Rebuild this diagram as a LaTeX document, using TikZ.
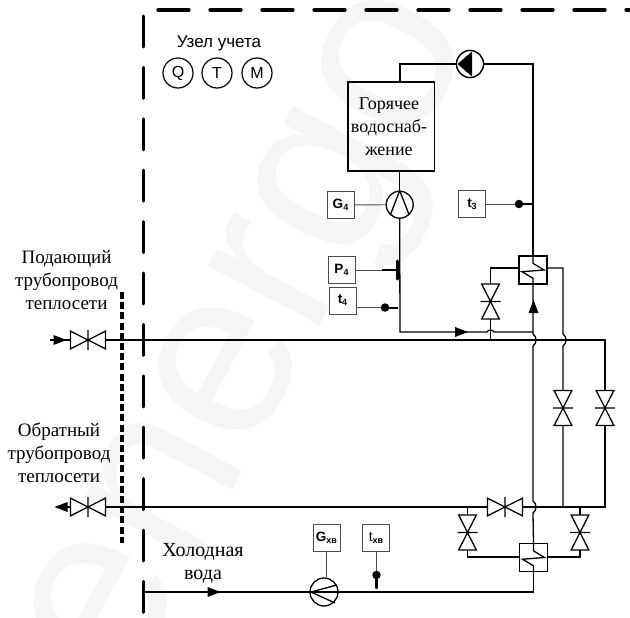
\documentclass[tikz,border=0pt]{standalone}
\usepackage{fontspec}
\setmainfont{Liberation Serif}
\newfontfamily\armfont{Liberation Sans}
\newcommand{\sensorlabel}[2]{{\armfont\bfseries\fontsize{13.5}{13.5}\selectfont #1\raisebox{-2pt}{\fontsize{9}{9}\selectfont #2}}}
\begin{document}
\begin{tikzpicture}[x=1pt, y=-1pt, >=stealth]
    \tikzstyle{pipe}=[draw, line width=1.3pt, line join=miter]
    \tikzstyle{tie}=[draw, line width=0.9pt, black!70]
    \tikzstyle{sensor}=[draw, black!70, line width=0.8pt, shape=rectangle, minimum size=27pt, inner sep=0pt, text=black]
    \tikzstyle{gauge}=[draw, line width=1.3pt, shape=circle, minimum size=27pt, inner sep=0pt]
    \tikzstyle{meter}=[draw, line width=1.2pt, shape=circle, minimum size=30pt, inner sep=0pt, font=\armfont\fontsize{16}{16}\selectfont]
    \tikzstyle{exch}=[draw, line width=1.5pt, shape=rectangle, minimum size=28pt, inner sep=0pt, fill=white]
    \tikzstyle{probe}=[fill, shape=circle, minimum size=8.5pt, inner sep=0pt]
    \tikzstyle{heavy}=[draw, line width=2.4pt, line cap=round]
    \tikzstyle{caption}=[align=center, font=\fontsize{19}{23}\selectfont]
    \tikzset{
      valve/.pic={\draw [pipe, fill=white] (-17.5,-8.8) -- (17.5,8.8) -- (17.5,-8.8) -- (-17.5,8.8) -- cycle (0,-10) -- (0,10);},
      flowtip/.pic={\fill (-6.5,-5) -- (6.5,0) -- (-6.5,5) -- cycle;},
      coil/.pic={\draw [pipe] (0,-14) -- (0,-6.7) -- (11,0) -- (-11,1.7) -- (0,8.3) -- (0,14);}
    }
    \useasboundingbox (0,0) rectangle (630,618);
    \clip (0,0) rectangle (630,618);

    % watermark
    \node [rotate=62, text=black!4, font=\armfont\fontsize{240}{240}\selectfont] (mark) at (265,345) {energo};

    % draw boundary
    \foreach \y in {0,...,11}
    \draw [heavy, line width=3pt] (143.5,16+\y*51.4) -- ++(0,31);

    \foreach \x in {0,...,9}
    \draw [heavy, line width=3.2pt] (158+\x*52,10) -- ++(31,0);

    \foreach \x in {0,...,9}
    \draw [heavy, line width=3pt, black!35] (143+\x*52,619) -- ++(30,0);

    \draw [line width=4pt, dash pattern=on 7pt off 3.2pt] (121.5,292) -- (121.5,543);

    % draw nodes
    \node [draw, line width=1.5pt, minimum width=86.5pt, minimum height=89pt, inner sep=0pt, caption, font=\fontsize{18}{23}\selectfont] (tank) at (391,126.5) {\hspace{-4pt}Горячее\\\hspace{-4pt}водоснаб-\\\hspace{-4pt}жение};
    \node [gauge] (circPump) at (470,64) {};
    \node [gauge] (gaugeFour) at (399.7,204.7) {};
    \node [gauge, minimum size=28pt] (gaugeCold) at (324,592) {};
    \node [exch] (exchHot) at (533,270) {};
    \node [exch] (exchCold) at (533.5,557.5) {};

    \node [sensor] (boxG) at (340.5,205) {\sensorlabel{G}{4}};
    \node [sensor] (boxP) at (341.5,270) {\sensorlabel{P}{4}};
    \node [sensor] (boxT) at (342.5,300.5) {\sensorlabel{t}{4}};
    \node [sensor] (boxTh) at (472,204) {\sensorlabel{t}{3}};
    \node [sensor] (boxGc) at (326.5,537.5) {\sensorlabel{G}{хв}};
    \node [sensor] (boxTc) at (376,537.5) {{\armfont\fontsize{14}{14}\selectfont t\raisebox{-2pt}{\bfseries\fontsize{9}{9}\selectfont хв}}};

    \foreach \m/\l [count=\x] in {Q/178,T/217,M/257}
    \node [meter] (meter-\m) at (\l,73) {\m};

    \node [font=\armfont\fontsize{17}{17}\selectfont] (unit) at (219,43) {Узел учета};
    \node [caption] (supplyText) at (66.5,280) {Подающий\\трубопровод\\теплосети};
    \node [caption] (returnText) at (59,453) {Обратный\\трубопровод\\теплосети};
    \node [caption, font=\fontsize{20}{23}\selectfont] (coldText) at (203,563) {Холодная\\вода};

    % draw coordinates
    \coordinate (supplyIn) at (50,340);
    \coordinate (supplyEnd) at (605,340);
    \coordinate (returnOut) at (56,507);
    \coordinate (returnEnd) at (605,507);
    \coordinate (coldIn) at (144,592);
    \coordinate (coldCorner) at (533.5,592);
    \coordinate (feedCorner) at (400,332);
    \coordinate (feedJoin) at (533,332);
    \coordinate (circLeft) at (400,64);
    \coordinate (circRight) at (533,64);
    \coordinate (tapHot) at (490.5,268);
    \coordinate (tapRight) at (563,268);
    \coordinate (tapCold) at (563,507);
    \coordinate (lowLeft) at (467.5,557);
    \coordinate (lowRight) at (580,557);
    \coordinate (lowLeftUp) at (467.5,507);
    \coordinate (lowRightUp) at (580,507);
    \coordinate (probeThree) at (519,204);
    \coordinate (probeFour) at (385,307.5);
    \coordinate (probeCold) at (376.5,575);
    \coordinate (barFour) at (397.5,270);

    % draw lines
    \draw [pipe] (supplyIn) -- (supplyEnd) -- (returnEnd) -- (returnOut);
    \draw [pipe] (tank.north -| circLeft) -- (circLeft) -- (circPump) -- (circRight) -- (exchHot.north);
    \draw [pipe] (tank.south -| gaugeFour) -- (gaugeFour.north);
    \draw [pipe] (gaugeFour.south) -- (feedCorner) -- (487,332) to [bend left=70] (494,332) -- (feedJoin);

    % exchanger legs with humps over the mains
    \draw [pipe] (exchHot.south) -- (533,334) to [bend left=60] (533,346) -- (533,501) to [bend left=60] (533,513) -- (exchCold.north);
    \draw [pipe] (exchCold.south) -- (coldCorner) -- (coldIn);
    \draw [pipe] (exchHot.east |- tapRight) -- (tapRight) -- (563,334) to [bend left=60] (563,346) -- (tapCold);
    \draw [pipe] (exchHot.west |- tapHot) -- (tapHot) -- (490.5,340);
    \draw [pipe] (lowLeftUp) -- (lowLeft) -- (exchCold.west |- lowLeft);
    \draw [pipe] (lowRightUp) -- (lowRight) -- (exchCold.east |- lowRight);

    \draw [tie] (boxG) -- (gaugeFour);
    \draw [tie] (boxP) -- (382,270);
    \draw [tie] (boxT.east |- probeFour) -- (probeFour);
    \draw [tie] (boxTh) -- (probeThree);
    \draw [heavy, line cap=butt, line width=2pt] (probeThree) -- (533,204);
    \draw [tie] (boxGc) -- (gaugeCold.north -| boxGc);
    \draw [tie] (boxTc.south -| probeCold) -- (probeCold);

    \draw [heavy, line cap=butt] (382,270) -- (barFour);
    \draw [heavy, line width=3pt] (397.5,261) -- (397.5,279);
    \draw [heavy, line cap=butt, line width=2pt] (probeFour) -- (398,307.5);
    \draw [heavy, line width=2.4pt] (probeCold) -- (376.5,588);

    \node [probe] (dotThree) at (probeThree) {};
    \node [probe] (dotFour) at (probeFour) {};
    \node [probe] (dotCold) at (probeCold) {};

    % draw symbols
    \draw [pipe, fill=white] (circPump) circle (13.5);
    \fill (457.5,64) -- (472,51.5) -- (472,76.5) -- cycle;
    \draw [pipe] (gaugeFour.north) -- (390.5,214.5) (gaugeFour.north) -- (409,214.5);
    \draw [pipe] (311,592) -- (337,585) (311,592) -- (335,603);

    \foreach \x/\y/\r in {88/340/0, 88/507/0, 505/507/0, 490.5/301.5/90, 563/408/90, 605/408/90, 467.5/532.5/90, 580/532.5/90}
    \path (\x,\y) pic [rotate=\r] {valve};

    \path (exchHot) pic {coil};
    \path (exchCold) pic {coil};

    \path (60,340) pic {flowtip};
    \path (61,507) pic [rotate=180] {flowtip};
    \path (214,592) pic {flowtip};
    \path (461.5,332) pic {flowtip};
    \path (533.5,306.5) pic [rotate=90] {flowtip};
\end{tikzpicture}
\end{document}
